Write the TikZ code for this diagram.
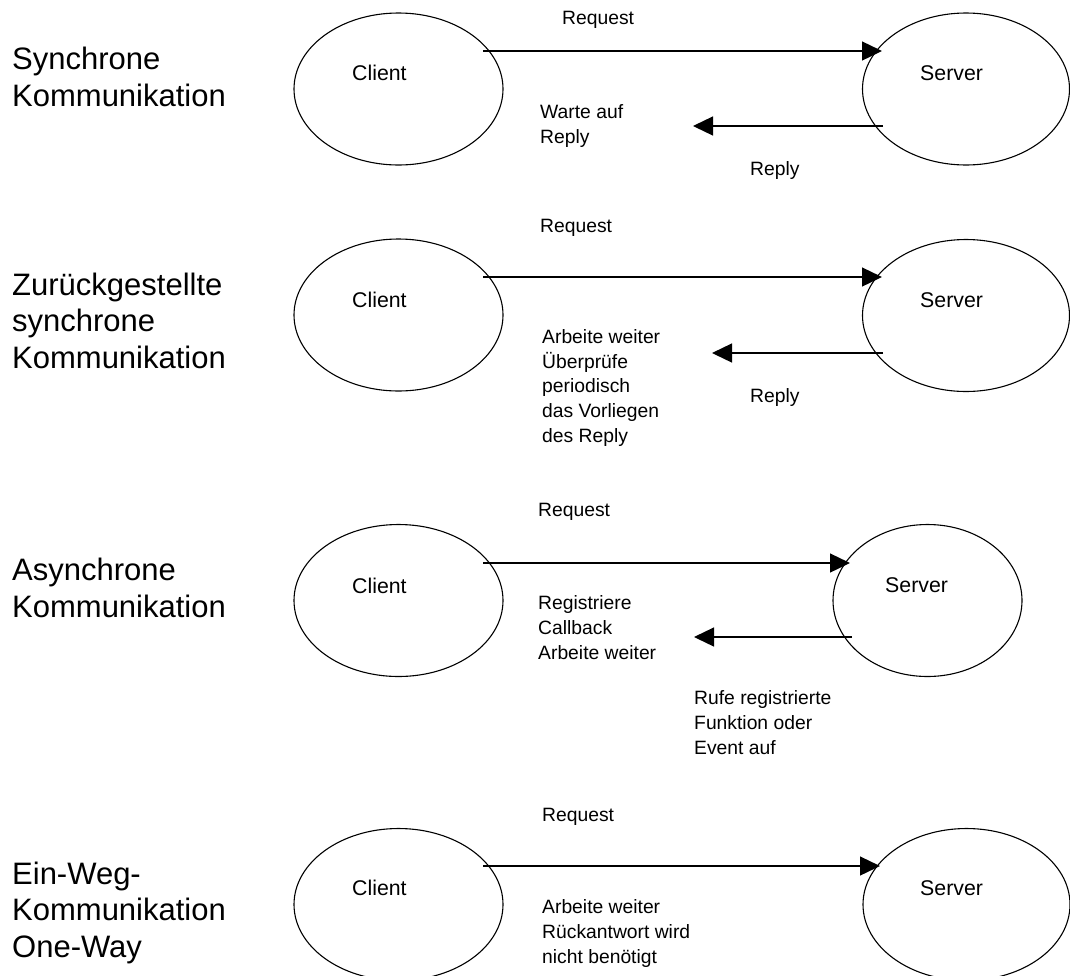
\documentclass[tikz,border=0pt]{standalone}
\usepackage{fontspec}
\setmainfont{Liberation Sans}
\usetikzlibrary{shapes.geometric,arrows.meta}

% Multi-line texts are placed by the baseline of their last line.
\tikzset{
  party/.style={ellipse, draw, line width=1.1pt, minimum width=209pt,
                minimum height=152pt, inner sep=0pt},
  role/.style={anchor=base west, inner sep=0pt, font=\fontsize{21.3}{25}\selectfont},
  note/.style={anchor=base west, align=left, inner sep=0pt,
               font=\fontsize{19.3}{24.6}\selectfont},
  rowlabel/.style={anchor=base west, align=left, inner sep=0pt,
                   font=\fontsize{31}{36.5}\selectfont},
  msg/.style={line width=1.3pt, -{Triangle[length=20pt,width=19pt]}}
}

\begin{document}
\begin{tikzpicture}[x=1pt,y=-1pt]
\useasboundingbox (0,0) rectangle (1070,975);

% ---------- Synchrone Kommunikation ----------
\node[rowlabel] (l1) at (12,106) {Synchrone\\Kommunikation};
\node[party] (c1) at (398.5,89) {};
\node[party, minimum width=207pt] (s1) at (966,89) {};
\node[role] (c1t) at (352,80) {Client};
\node[role] (s1t) at (920,80) {Server};
\node[note] (q1) at (562,24) {Request};
\node[note] (w1) at (540,143) {Warte auf\\Reply};
\node[note] (r1) at (750,175) {Reply};
\coordinate (e1) at (693,126);
\draw[msg] ([shift={(84.5,-38)}]c1.center) -- ([shift={(-84,-38)}]s1.center);
\draw[msg] ([shift={(-83,37)}]s1.center) -- (e1);

% ---------- Zurueckgestellte synchrone Kommunikation ----------
\node[rowlabel] (l2) at (12,368) {Zurückgestellte\\synchrone\\Kommunikation};
\node[party] (c2) at (398.5,315) {};
\node[party, minimum width=207pt] (s2) at (966,315.5) {};
\node[role] (c2t) at (352,307) {Client};
\node[role] (s2t) at (920,307) {Server};
\node[note] (q2) at (540,232) {Request};
\node[note] (w2) at (542,442) {Arbeite weiter\\Überprüfe\\periodisch\\das Vorliegen\\des Reply};
\node[note] (r2) at (750,402) {Reply};
\coordinate (e2) at (712,353);
\draw[msg] ([shift={(84.5,-38)}]c2.center) -- ([shift={(-84,-38.5)}]s2.center);
\draw[msg] ([shift={(-83,37.5)}]s2.center) -- (e2);

% ---------- Asynchrone Kommunikation ----------
\node[rowlabel] (l3) at (12,617) {Asynchrone\\Kommunikation};
\node[party] (c3) at (398.5,600.5) {};
\node[party, minimum width=189pt] (s3) at (927.5,600.5) {};
\node[role] (c3t) at (352,593) {Client};
\node[role] (s3t) at (885,592) {Server};
\node[note] (q3) at (538,516) {Request};
\node[note] (w3) at (538,659) {Registriere\\Callback\\Arbeite weiter};
\node[note] (r3) at (694,754) {Rufe registrierte\\Funktion oder\\Event auf};
\coordinate (e3) at (694,637);
\draw[msg] ([shift={(84.5,-37.5)}]c3.center) -- ([shift={(-77.5,-37.5)}]s3.center);
\draw[msg] ([shift={(-75.5,36.5)}]s3.center) -- (e3);

% ---------- Ein-Weg-Kommunikation ----------
\node[rowlabel] (l4) at (12,957) {Ein-Weg-\\Kommunikation\\One-Way};
\node[party] (c4) at (398.5,904.5) {};
\node[party, minimum width=207pt] (s4) at (966.5,904.5) {};
\node[role] (c4t) at (352,895) {Client};
\node[role] (s4t) at (920,895) {Server};
\node[note] (q4) at (542,821) {Request};
\node[note] (w4) at (542,963) {Arbeite weiter\\Rückantwort wird\\nicht benötigt};
\draw[msg] ([shift={(84.5,-38.5)}]c4.center) -- ([shift={(-86.5,-38.5)}]s4.center);
\end{tikzpicture}
\end{document}
